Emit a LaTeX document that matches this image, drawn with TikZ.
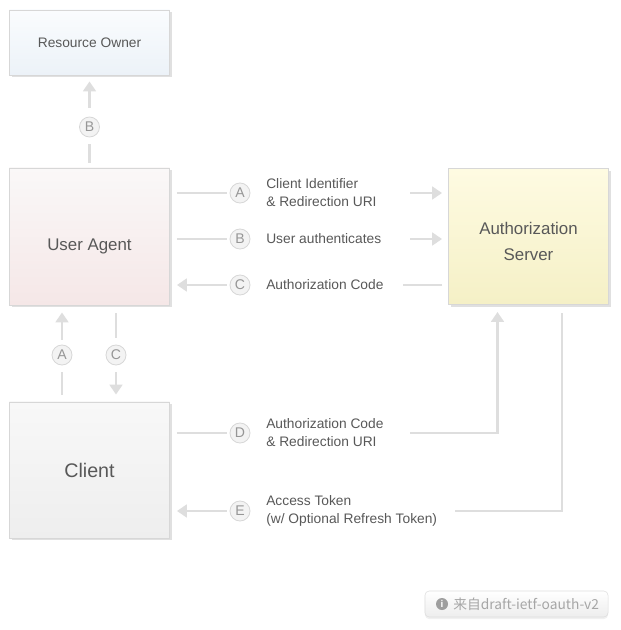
\documentclass[tikz,border=0pt]{standalone}
\usepackage{fontspec}
\setmainfont{Liberation Sans}
\newfontfamily\cjk{Noto Sans CJK SC}
\usetikzlibrary{positioning, arrows.meta, shadows}

\definecolor{lnc}{RGB}{222,222,222}
\definecolor{txc}{RGB}{88,88,88}
\definecolor{stepfill}{RGB}{243,243,243}
\definecolor{stepdraw}{RGB}{215,215,215}
\definecolor{steptxt}{RGB}{150,150,150}
\definecolor{boxline}{RGB}{215,215,215}
\definecolor{roTop}{RGB}{250,252,254}
\definecolor{roBot}{RGB}{236,242,248}
\definecolor{uaTop}{RGB}{250,248,248}
\definecolor{uaBot}{RGB}{245,231,231}
\definecolor{asTop}{RGB}{254,251,226}
\definecolor{asBot}{RGB}{245,240,198}
\definecolor{clTop}{RGB}{248,248,248}
\definecolor{clBot}{RGB}{238,238,238}

\begin{document}
\begin{tikzpicture}[
    x=0.025cm, y=-0.025cm,
    box/.style={draw=boxline, line width=0.6pt, minimum width=4cm, inner sep=0pt,
                align=center, text=txc,
                drop shadow={shadow xshift=1.6pt, shadow yshift=-1.6pt,
                             fill=black!12, opacity=1}},
    stepc/.style={circle, draw=stepdraw, fill=stepfill, line width=0.6pt,
                  minimum size=0.5cm, inner sep=0pt, text=steptxt,
                  font=\fontsize{10}{11}\selectfont},
    lbl/.style={anchor=west, align=left, text=txc, inner sep=0pt,
                font=\fontsize{9.8}{12.8}\selectfont},
    ln/.style={draw=lnc, line width=2.1pt},
    arr/.style={ln, -{Triangle[length=7pt, width=9pt]}},
]

% Positions
\pgfmathsetmacro{\xL}{89.5}
\pgfmathsetmacro{\xS}{240}
\pgfmathsetmacro{\xT}{266}
\pgfmathsetmacro{\yA}{193}
\pgfmathsetmacro{\yB}{239}
\pgfmathsetmacro{\yC}{285}
\pgfmathsetmacro{\yD}{433}
\pgfmathsetmacro{\yE}{511}

\useasboundingbox (0,0) rectangle (620,630);

% ===== BOXES =====
\node[box, minimum height=1.625cm, top color=roTop, bottom color=roBot,
      font=\fontsize{9.8}{12}\selectfont] (ro) at (\xL, 42.5) {Resource Owner};
\node[box, minimum height=3.425cm, top color=uaTop, bottom color=uaBot,
      text height=0.7cm, text depth=0pt,
      font=\fontsize{12}{15}\selectfont] (ua) at (\xL, 236.5) {User Agent};
\node[box, minimum height=3.4cm, top color=asTop, bottom color=asBot,
      text height=1.18cm, text depth=0pt,
      font=\fontsize{12}{18.4}\selectfont] (as) at (528.5, 236.5) {Authorization\\Server};
\node[box, minimum height=3.4cm, top color=clTop, bottom color=clBot,
      font=\fontsize{14}{17}\selectfont] (cl) at (\xL, 470) {Client};

% ===== STEP CIRCLES =====
\node[stepc] (b0) at (\xL, 127) {B};
\node[stepc] (a0) at (62, 355) {A};
\node[stepc] (c0) at (116, 355) {C};
\node[stepc] (a1) at (\xS, \yA) {A};
\node[stepc] (b1) at (\xS, \yB) {B};
\node[stepc] (c1) at (\xS, \yC) {C};
\node[stepc] (d1) at (\xS, \yD) {D};
\node[stepc] (e1) at (\xS, \yE) {E};

% ===== LABELS =====
\node[lbl] (la) at (\xT, \yA) {Client Identifier\\\& Redirection URI};
\node[lbl] (lb) at (\xT, \yB) {User authenticates};
\node[lbl] (lc) at (\xT, \yC) {Authorization Code};
\node[lbl] (ld) at (\xT, \yD) {Authorization Code\\\& Redirection URI};
\node[lbl] (le) at (\xT, \yE) {Access Token\\(w/ Optional Refresh Token)};

% free ends
\coordinate (aR) at (410, \yA);
\coordinate (bR) at (410, \yB);
\coordinate (cR) at (403, \yC);
\coordinate (dR) at (410, \yD);
\coordinate (dT) at (497.5, 312);
\coordinate (eR) at (455, \yE);
\coordinate (eT) at (562, 313);

% ===== VERTICAL FLOWS =====
\draw[ln, shorten <=0.125cm, shorten >=0.175cm] (ua.north -| b0) -- (b0);
\draw[arr, shorten <=0.225cm, shorten >=0.15cm] (b0) -- (ro.south -| b0);
\draw[ln, shorten <=0.175cm, shorten >=0.175cm] (cl.north -| a0) -- (a0);
\draw[arr, shorten <=0.125cm, shorten >=0.175cm] (a0) -- (ua.south -| a0);
\draw[ln, shorten <=0.2cm, shorten >=0.175cm] (ua.south -| c0) -- (c0);
\draw[arr, shorten <=0.175cm, shorten >=0.175cm] (c0) -- (cl.north -| c0);

% ===== HORIZONTAL FLOWS =====
\draw[ln, shorten <=0.175cm, shorten >=0.075cm] (ua.east |- a1) -- (a1);
\draw[arr, shorten >=0.15cm] (aR) -- (as.west |- aR);
\draw[ln, shorten <=0.175cm, shorten >=0.075cm] (ua.east |- b1) -- (b1);
\draw[arr, shorten >=0.15cm] (bR) -- (as.west |- bR);
\draw[arr, shorten <=0.075cm, shorten >=0.175cm] (c1) -- (ua.east |- c1);
\draw[ln, shorten <=0.15cm] (as.west |- cR) -- (cR);
\draw[ln, shorten <=0.175cm, shorten >=0.075cm] (cl.east |- d1) -- (d1);
\draw[arr] (dR) -| (dT);
\draw[arr, shorten <=0.075cm, shorten >=0.175cm] (e1) -- (cl.east |- e1);
\draw[ln] (eT) |- (eR);

% ===== SOURCE NOTE =====
\node[draw=black!13, rounded corners=3pt, top color=white, bottom color=black!7,
      minimum width=4.575cm, minimum height=0.65cm, inner sep=0pt,
      drop shadow={shadow xshift=0pt, shadow yshift=-1.5pt, fill=black!6, opacity=1}]
      (foot) at (516.5, 604) {};
\node[circle, fill=black!38, minimum size=0.3cm, inner sep=0pt, text=white,
      font=\fontsize{7}{7}\bfseries\selectfont] (info) at (442, 604) {i};
\node[anchor=west, inner sep=0pt, text=black!35, font=\cjk\fontsize{9.8}{11}\selectfont]
      (src) at (453, 604) {来自draft-ietf-oauth-v2};

\end{tikzpicture}
\end{document}
